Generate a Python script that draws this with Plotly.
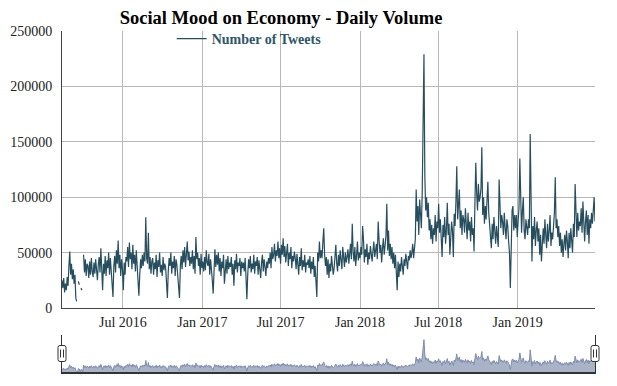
import pandas as pd
import plotly.graph_objects as go

# Daily tweet volume every second day, in thousands of tweets
# (None = missing days, drawn as a gap)
tweets_2016_k = [
    25, 18, 27, 14, 22, 16, 28, 20, 38, 51, 30, 40, 26, 35, 22,
    30, 9, 6, None, 24, 21, None, 18, 16, None, 48, 32, 44, 29, 40,
    38, 27, 42, 30, 45, 33, 28, 41, 31, 44, 35, 25, 39, 46, 32,
    54, 35, 16, 40, 31, 47, 29, 43, 36, 50, 30, 45, 33, 22, 10,
    38, 47, 32, 52, 40, 61, 36, 48, 29, 44, 35, 16, 41, 30, 46,
    42, 55, 37, 59, 44, 50, 35, 57, 40, 48, 33, 52, 38, 27, 11,
    30, 44, 36, 48, 38, 50, 42, 82, 45, 40, 68, 35, 46, 31, 42,
    45, 30, 41, 35, 48, 28, 43, 37, 50, 32, 39, 29, 46, 34, 40,
    36, 22, 9, 33, 45, 38, 50, 31, 42, 36, 47, 29, 44, 39, 26,
    15, 9, 38, 47, 35, 52, 41, 55, 37, 49, 60, 43, 51, 38, 46,
    40, 52, 35, 47, 31, 64, 44, 50, 38, 45, 30, 49, 36,
]
tweets_2017_k = [
    42, 33,
    46, 34, 52, 41, 38, 49, 30, 44, 36, 25, 13, 40, 53, 37, 48,
    39, 50, 33, 45, 29, 42, 36, 48, 22, 38, 44, 31, 47, 35, 41,
    37, 46, 30, 40, 20, 43, 35, 49, 32, 41, 38, 45, 29, 42, 36,
    41, 33, 45, 28, 8, 30, 44, 36, 47, 32, 40, 35, 48, 31, 42,
    38, 46, 30, 43, 35, 27, 41, 48, 33, 44, 37, 29, 42, 36, 45,
    40, 50, 36, 55, 44, 48, 58, 42, 52, 47, 60, 45, 54, 40, 57,
    48, 63, 46, 56, 41, 52, 58, 38, 50, 44, 55, 36, 47, 42, 51,
    45, 35, 49, 40, 30, 46, 38, 54, 34, 43, 37, 48, 32, 41, 39,
    44, 36, 47, 31, 42, 35, 46, 28, 38, 18, 10, 50, 42, 60, 45,
    52, 45, 60, 72, 48, 38, 46, 30, 44, 27, 40, 33, 47, 38, 30,
    36, 45, 57, 40, 33, 48, 38, 52, 42, 35, 55, 44, 37, 50, 41,
    46, 53, 40, 49, 58, 44, 76, 51, 42, 55, 38, 48, 60, 43, 50,
]
tweets_2018_k = [
    45, 55, 48, 74, 62, 41, 53, 46, 58, 39, 50, 44, 56, 47, 42,
    52, 60, 46, 55, 58, 44, 78, 62, 50, 57, 41, 54, 63, 48, 59,
    65, 94, 52, 70, 47, 58, 44, 55, 40, 50, 36, 48, 30, 16, 42,
    28, 40, 33, 46, 36, 30, 44, 38, 49, 41, 35, 47, 43, 52, 45,
    50, 58, 45, 55, 62, 107, 78, 92, 66, 98, 85, 72, 105, 190, 229,
    120, 88, 100, 82, 95, 70, 80, 62, 75, 58, 72, 66, 84, 60, 78,
    72, 94, 68, 80, 60, 46, 75, 64, 82, 58, 70, 95, 66, 76, 48,
    62, 78, 70, 46, 85, 74, 96, 128, 80, 96, 107, 72, 88, 66, 84,
    80, 68, 90, 74, 62, 86, 70, 78, 60, 82, 66, 72, 51, 95, 131,
    104, 88, 112, 96, 100, 108, 145, 84, 100, 76, 92, 80, 98, 114, 86,
    74, 66, 54, 76, 62, 82, 70, 58, 74, 64, 55, 116, 92, 72, 84,
    78, 66, 86, 72, 62, 80, 74, 60, 50, 18, 76, 88, 92, 70, 84,
    72, 84, 64,
]
tweets_2019_k = [
    78, 90, 135, 76, 68, 88, 100, 70, 62, 80, 74, 66,
    80, 72, 157, 95, 42, 74, 62, 82, 56, 70, 78, 60, 72, 48, 66,
    42, 64, 72, 58, 80, 66, 54, 76, 60, 70, 84, 56, 68, 62, 74,
    86, 118, 72, 80, 64, 74, 56, 68, 50, 62, 46, 58, 66, 52, 70,
    60, 45, 68, 54, 72, 58, 50, 76, 64, 112, 80, 64, 86, 70, 78,
    74, 90, 68, 96, 82, 60, 78, 88, 66, 84, 58, 80, 72, 86, 76,
    92, 100, 78,
]

first_day = "2016-02-11"
sample_step = "2D"
series_name = "Number of Tweets"
chart_title = "Social Mood on Economy - Daily Volume"
y_ticks = [0, 50000, 100000, 150000, 200000, 250000]

volume_k = tweets_2016_k + tweets_2017_k + tweets_2018_k + tweets_2019_k
dates = pd.date_range(first_day, periods=len(volume_k), freq=sample_step)
volume = [None if v is None else v * 1000 for v in volume_k]
navigator_volume = [0 if v is None else v for v in volume]

SERIF = "Liberation Serif, Times New Roman, serif"
# figure sits at an 8px page offset inside the 617x386 window
W, H = 609, 378
M_L, M_R, M_T, M_B = 54, 22, 23, 14
plot_h = H - M_T - M_B
plot_w = W - M_L - M_R
main_bottom_px, nav_top_px = 300, 327
main_dom = [(H - M_B - main_bottom_px) / plot_h, 1]
nav_dom = [0, (H - M_B - nav_top_px) / plot_h]
main_h = main_bottom_px - M_T

fig = go.Figure()
fig.add_trace(go.Scatter(
    x=dates, y=volume, mode="lines", name=series_name,
    line=dict(color="#274e5e", width=1.2), connectgaps=False,
    xaxis="x", yaxis="y",
))
fig.add_trace(go.Scatter(
    x=dates, y=navigator_volume, mode="lines", fill="tozeroy",
    line=dict(color="#7f8cab", width=1), fillcolor="#a9b3c8",
    xaxis="x2", yaxis="y2", showlegend=False, hoverinfo="skip",
))

grid = "#b8b8b8"
fig.update_layout(
    width=W, height=H,
    margin=dict(l=M_L, r=M_R, t=M_T, b=M_B, autoexpand=False),
    template="none",
    paper_bgcolor="white", plot_bgcolor="white",
    font=dict(family=SERIF, size=14, color="#333333"),
    title=dict(
        text=chart_title, x=273 / W, xref="container", xanchor="center",
        y=1 - 9.5 / H, yref="container", yanchor="middle",
        font=dict(family=SERIF, size=18.5, color="#000000", weight="bold"),
    ),
    showlegend=True,
    legend=dict(
        orientation="h", x=(163.7 - M_L) / plot_w, xanchor="left",
        y=1 + 8 / plot_h, yanchor="top", bgcolor="rgba(255,255,255,0)", borderwidth=0,
        font=dict(family=SERIF, size=14, color="#2f5567", weight="bold"),
    ),
    xaxis=dict(
        domain=[0, 1], anchor="y", type="date",
        showgrid=True, gridcolor=grid, gridwidth=1,
        dtick="M6", tick0="2016-01-01", tickformat="%b %Y",
        showline=True, linecolor="#444444", linewidth=1,
        ticks="", zeroline=False, ticklabelstandoff=1,
        tickfont=dict(family=SERIF, size=14, color="#222222"),
    ),
    yaxis=dict(
        domain=main_dom, anchor="x", range=[0, 250000],
        tickvals=y_ticks, tickformat="d",
        showgrid=True, gridcolor=grid, gridwidth=1,
        showline=True, linecolor="#444444", linewidth=1,
        ticks="", zeroline=False, ticklabelstandoff=6,
        tickfont=dict(family=SERIF, size=14, color="#222222"),
    ),
    xaxis2=dict(
        domain=[0, 1], anchor="y2", type="date",
        showgrid=False, showticklabels=False, ticks="",
        showline=True, linecolor="#333333", linewidth=1.5, zeroline=False,
    ),
    yaxis2=dict(
        domain=nav_dom, anchor="x2", range=[0, 262000],
        showgrid=False, showticklabels=False, ticks="",
        showline=True, mirror=True, linecolor="#333333", linewidth=1,
        zeroline=False,
    ),
    hovermode="x",
)

# white legend backdrop hiding the grid behind the legend row (above grid, below traces)
fig.add_shape(type="rect", xref="x domain", yref="y domain", layer="below",
              x0=(193 - 8 - M_L) / plot_w, x1=(452 - 8 - M_L) / plot_w,
              y0=1 - 16 / main_h, y1=1,
              fillcolor="white", line=dict(width=0))

# navigator handles at both ends
handle = "M-4,-6 L-4,6 Q-4,8 -2,8 L2,8 Q4,8 4,6 L4,-6 Q4,-8 2,-8 L-2,-8 Q-4,-8 -4,-6 Z"
grip = "M-1.5,-4 L-1.5,4 M1.5,-4 L1.5,4"
for edge in (0, 1):
    fig.add_shape(type="path", xref="x2 domain", yref="y2 domain",
                  xsizemode="pixel", ysizemode="pixel", xanchor=edge, yanchor=0.5,
                  path=handle, fillcolor="white", line=dict(color="#333333", width=1))
    fig.add_shape(type="path", xref="x2 domain", yref="y2 domain",
                  xsizemode="pixel", ysizemode="pixel", xanchor=edge, yanchor=0.5,
                  path=grip, line=dict(color="#333333", width=1))

fig.write_html("out.html")
